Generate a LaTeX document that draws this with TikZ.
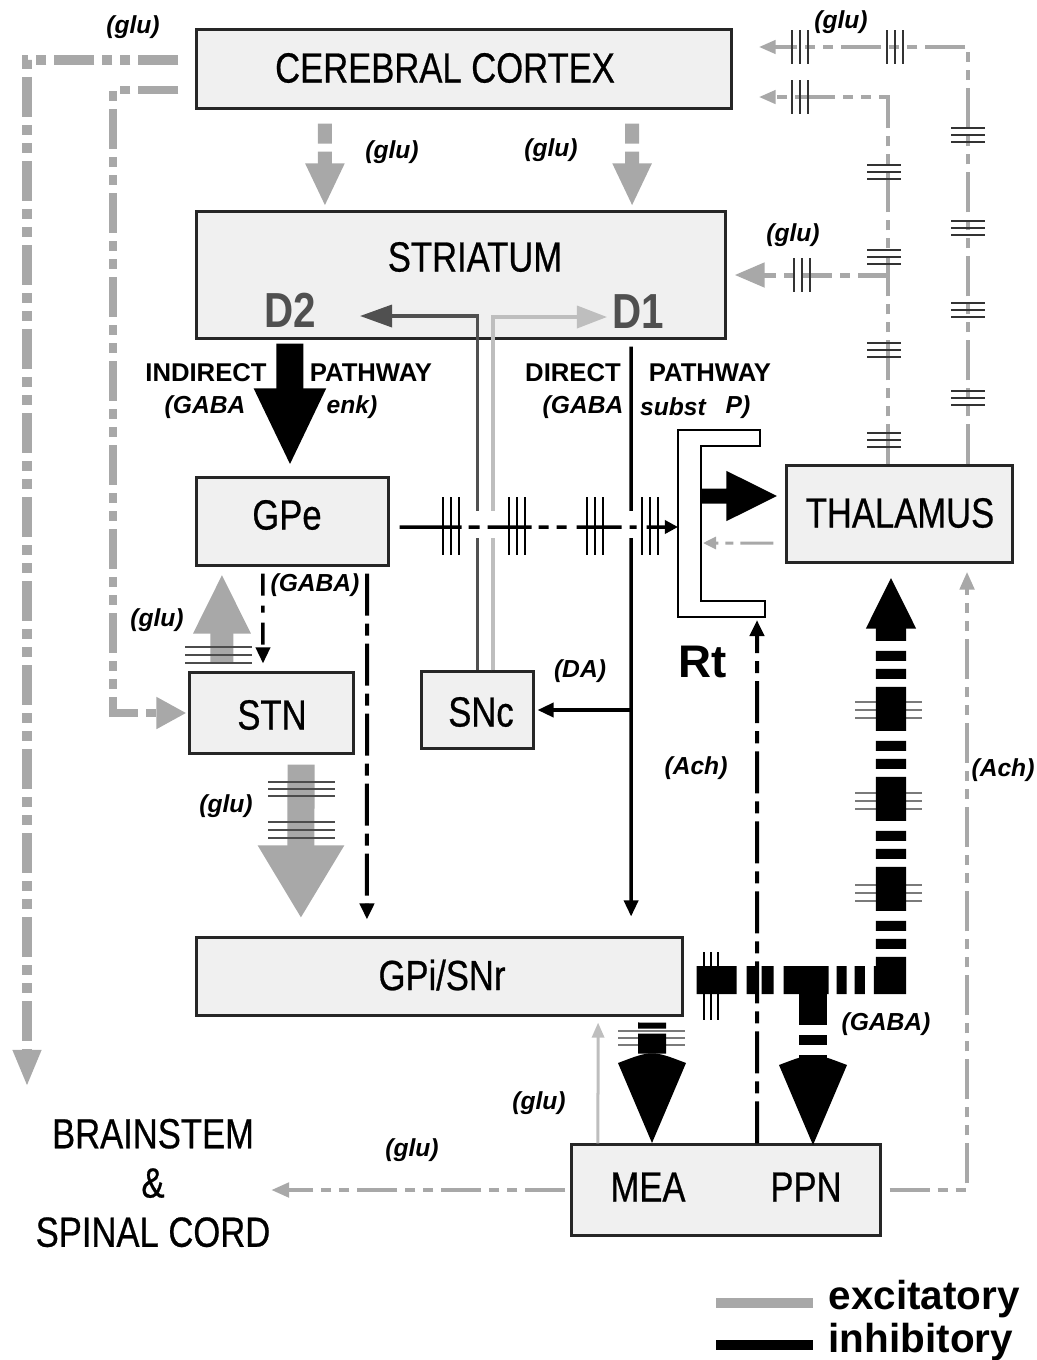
\documentclass[tikz,border=0pt]{standalone}
\usepackage{fontspec}
\setmainfont{Liberation Sans}
\newfontfamily\narrowsans{Liberation Sans}[FakeStretch=0.82, FakeBold=0.6]
\newfontfamily\narrowplain{Liberation Sans}[FakeStretch=0.82]
\usetikzlibrary{arrows.meta}

\definecolor{excgray}{HTML}{A8A8A8}
\definecolor{palegray}{HTML}{BEBEBE}
\definecolor{darkline}{HTML}{505050}
\definecolor{boxfill}{HTML}{F0F0F0}
\definecolor{tickgray}{HTML}{7A7A7A}

\tikzset{
  region/.style={draw=black!85, line width=0.03cm, fill=boxfill, inner sep=0pt},
  regiontext/.style={font=\narrowsans\fontsize{12}{14}\selectfont, inner sep=0pt},
  chem/.style={font=\fontsize{7}{8}\selectfont\bfseries\itshape, inner sep=0pt},
  pathtext/.style={font=\fontsize{7.3}{9}\selectfont\bfseries, inner sep=0pt},
  pathchem/.style={font=\fontsize{7}{9}\selectfont\bfseries\itshape, inner sep=0pt},
  excit/.style={draw=excgray},
  inhib/.style={draw=black},
  dashdotdot/.style={dash pattern=on 0.40cm off 0.08cm on 0.10cm off 0.08cm on 0.10cm off 0.08cm},
  dashdotline/.style={dash pattern=on 0.42cm off 0.08cm on 0.12cm off 0.08cm},
  tickmark/.style={draw=black!80, line width=0.02cm},
  smalltip/.style={-{Triangle[length=0.16cm,width=0.14cm]}}
}

\begin{document}
\begin{tikzpicture}[x=0.01cm, y=-0.01cm]
\useasboundingbox (0,0) rectangle (1037,1360);

%------------------------------------------------
% Regions
%------------------------------------------------

\node[region, minimum width=5.34cm, minimum height=0.78cm] (cortex) at (464,69) {};
\node[region, minimum width=5.28cm, minimum height=1.26cm] (striatum) at (461,275) {};
\node[region, minimum width=1.91cm, minimum height=0.87cm] (gpe) at (292.5,521.5) {};
\node[region, minimum width=1.63cm, minimum height=0.80cm] (stn) at (271.5,713) {};
\node[region, minimum width=1.11cm, minimum height=0.76cm] (snc) at (477.5,710) {};
\node[region, minimum width=2.25cm, minimum height=0.96cm] (thal) at (899.5,514) {};
\node[region, minimum width=4.85cm, minimum height=0.77cm] (gpi) at (439.5,976.5) {};
\node[region, minimum width=3.08cm, minimum height=0.90cm] (meappn) at (726,1190) {};

\node[regiontext] (cortextxt) at (445,68) {CEREBRAL CORTEX};
\node[regiontext] (striatumtxt) at (475,257) {STRIATUM};
\node[regiontext] (gpetxt) at (287,515) {GPe};
\node[regiontext] (stntxt) at (272,715) {STN};
\node[regiontext] (snctxt) at (481,712) {SNc};
\node[regiontext] (thaltxt) at (900,513) {THALAMUS};
\node[regiontext] (gpitxt) at (442,975) {GPi/SNr};
\node[regiontext] (meatxt) at (648,1187) {MEA};
\node[regiontext] (ppntxt) at (806,1187) {PPN};
\node[regiontext, align=center] (brain) at (153,1183) {BRAINSTEM\\\&\\SPINAL CORD};

\node[font=\narrowplain\bfseries\fontsize{14}{16}\selectfont, text=darkline, inner sep=0pt] (d2) at (290,310) {D2};
\node[font=\narrowplain\bfseries\fontsize{14}{16}\selectfont, text=darkline, inner sep=0pt] (d1) at (638,312) {D1};

%------------------------------------------------
% Reticular nucleus
%------------------------------------------------

\draw[line width=0.02cm, fill=white] (678,430) -- (760,430) -- (760,446) -- (701,446)
  -- (701,601) -- (765,601) -- (765,617) -- (678,617) -- cycle;
\coordinate (rtleft) at (678,527);
\coordinate (rtin) at (701,496);
\coordinate (rtinlow) at (703,543);
\coordinate (rtbot) at (757,620);
\node[font=\bfseries\fontsize{13}{15}\selectfont, inner sep=0pt] (rt) at (703,662) {Rt};

\draw[inhib, line width=0.15cm, -{Triangle[length=0.52cm,width=0.46cm]}]
  (rtin) -- ([xshift=-0.07cm,yshift=0.18cm]thal.west);
\draw[excit, line width=0.03cm, dash pattern=on 0.33cm off 0.07cm on 0.08cm off 0.07cm,
      -{Triangle[length=0.13cm,width=0.12cm]}]
  ([xshift=-0.12cm,yshift=-0.29cm]thal.west) -- (rtinlow);

%------------------------------------------------
% Cortical outputs
%------------------------------------------------

\coordinate (bsarrow) at (27,1087);
\draw[excit, line width=0.10cm, dashdotdot, -{Triangle[length=0.37cm,width=0.26cm]}]
  ([xshift=-0.17cm,yshift=0.09cm]cortex.west) -| (bsarrow);
\draw[excit, line width=0.08cm, dashdotdot, -{Triangle[length=0.30cm,width=0.30cm]}]
  ([xshift=-0.17cm,yshift=-0.21cm]cortex.west) -| ([xshift=-0.75cm]stn.west) -- ([xshift=-0.02cm]stn.west);

\foreach \sx/\tx in {-1.39cm/-1.36cm, 1.68cm/1.71cm}
  \draw[excit, line width=0.14cm, dash pattern=on 0.2cm off 0.08cm on 0.15cm,
        -{Triangle[length=0.43cm,width=0.36cm]}]
    ([xshift=\sx,yshift=-0.14cm]cortex.south) -- ([xshift=\tx,yshift=0.04cm]striatum.north);

%------------------------------------------------
% Thalamic outputs
%------------------------------------------------

\coordinate (thalout) at ([xshift=0.685cm]thal.north);
\coordinate (thalin) at ([xshift=-0.115cm]thal.north);

\draw[excit, line width=0.045cm, dashdotdot, -{Triangle[length=0.17cm,width=0.13cm]}]
  (thalout) |- ([xshift=0.26cm,yshift=0.22cm]cortex.east);
\draw[excit, line width=0.045cm, dashdotdot, -{Triangle[length=0.17cm,width=0.13cm]}]
  (thalin) |- ([xshift=0.26cm,yshift=-0.28cm]cortex.east);
\draw[excit, line width=0.05cm, dash pattern=on 0.3cm off 0.08cm on 0.1cm off 0.08cm,
      -{Triangle[length=0.30cm,width=0.24cm]}]
  (thalin |- striatum.east) -- ([xshift=0.08cm]striatum.east);

\foreach \ty in {135,228,310,398}
  \foreach \dy in {-7,0,7}
    \draw[tickmark] (951,\ty+\dy) -- (985,\ty+\dy);
\foreach \ty in {172,257,350,440}
  \foreach \dy in {-7,0,7}
    \draw[tickmark] (867,\ty+\dy) -- (901,\ty+\dy);
\foreach \tx/\ty in {800/47,895/47,800/97,802/275}
  \foreach \dx in {-8,0,8}
    \draw[tickmark] (\tx+\dx,\ty-17) -- (\tx+\dx,\ty+17);

%------------------------------------------------
% Striatal outputs
%------------------------------------------------

\draw[inhib, line width=0.27cm, -{Triangle[length=0.78cm,width=0.66cm]}]
  ([xshift=-1.71cm,yshift=-0.04cm]striatum.south) -- ([xshift=-0.025cm,yshift=0.1cm]gpe.north);

\coordinate (d2end) at (360,316);
\coordinate (d1end) at (607,317);
\draw[draw=darkline, line width=0.035cm, -{Triangle[length=0.32cm,width=0.22cm]}]
  (snc.north) |- (d2end);
\draw[draw=palegray, line width=0.035cm, -{Triangle[length=0.30cm,width=0.22cm]}]
  ([xshift=0.155cm]snc.north) |- (d1end);

\coordinate (directtop) at ([xshift=1.70cm,yshift=-0.07cm]striatum.south);
\coordinate (directend) at ([xshift=1.915cm,yshift=0.2cm]gpi.north);
\draw[inhib, line width=0.035cm, smalltip] (directtop) -- (directend);
\draw[inhib, line width=0.035cm, smalltip] (directtop |- snc.east) -- ([xshift=0.03cm]snc.east);

% gaps where the pallidal line crosses
\fill[white] (470,511) rectangle (500,538);
\fill[white] (624,511) rectangle (638,538);

%------------------------------------------------
% Pallidal outputs
%------------------------------------------------

\draw[inhib, line width=0.035cm,
      dash pattern=on 0.62cm off 0.07cm on 0.11cm off 0.08cm on 0.44cm off 0.07cm on 0.10cm off 0.08cm
                   on 0.10cm off 0.10cm on 0.45cm off 0.08cm on 0.07cm off 0.10cm on 0.40cm,
      -{Triangle[length=0.13cm,width=0.13cm]}]
  ([xshift=0.1cm,yshift=-0.055cm]gpe.east) -- (rtleft);
\foreach \tx in {451,517,595,650}
  \foreach \dx in {-8,0,8}
    \draw[tickmark, draw=black] (\tx+\dx,497) -- (\tx+\dx,555);

\draw[inhib, line width=0.035cm, dash pattern=on 0.22cm off 0.1cm on 0.07cm off 0.1cm, smalltip]
  ([xshift=-0.295cm,yshift=-0.07cm]gpe.south) -- ([xshift=-0.085cm,yshift=0.08cm]stn.north);
\draw[inhib, line width=0.04cm, dashdotline, smalltip]
  ([xshift=0.745cm,yshift=-0.07cm]gpe.south) -- ([xshift=-0.725cm,yshift=0.17cm]gpi.north);

%------------------------------------------------
% Subthalamic outputs
%------------------------------------------------

\draw[excit, line width=0.23cm, -{Triangle[length=0.60cm,width=0.53cm]}]
  ([xshift=-0.495cm,yshift=0.08cm]stn.north) -- ([xshift=-0.705cm,yshift=-0.07cm]gpe.south);
\foreach \dy in {647,655,663}
  \draw[tickmark, draw=black!70] (185,\dy) -- (252,\dy);

\draw[excit, line width=0.27cm, -{Triangle[length=0.73cm,width=0.81cm]}]
  ([xshift=0.295cm,yshift=-0.1cm]stn.south) -- ([xshift=-1.385cm,yshift=0.18cm]gpi.north);
\foreach \dy in {782,789,796,822,830,838}
  \draw[tickmark, draw=black!70] (268,\dy) -- (335,\dy);

%------------------------------------------------
% GPi/SNr outputs
%------------------------------------------------

\foreach \ty in {710,801,893}
  \foreach \dy in {-8,0,8}
    \draw[tickmark, draw=tickgray] (855,\ty+\dy) -- (922,\ty+\dy);
\foreach \dy in {-7,0,7}
  \draw[tickmark, draw=tickgray] (618,1038+\dy) -- (685,1038+\dy);

\coordinate (gabajoin) at (876,980);
\coordinate (gabafoot) at (891,994);
\coordinate (ppnstem) at (813,966);

\draw[inhib, line width=0.28cm,
      dash pattern=on 0.40cm off 0.10cm on 0.12cm off 0.03cm on 0.12cm off 0.10cm on 0.45cm off 0.08cm
                   on 0.10cm off 0.08cm on 0.10cm off 0.09cm]
  ([xshift=0.13cm,yshift=-0.035cm]gpi.east) -- (gabajoin);
\draw[inhib, line width=0.30cm,
      dash pattern=on 0.44cm off 0.08cm on 0.10cm off 0.08cm on 0.10cm off 0.10cm, dash phase=0.07cm,
      -{Triangle[length=0.52cm,width=0.46cm]}]
  (gabafoot) -- ([xshift=-0.085cm,yshift=-0.13cm]thal.south);
\draw[inhib, line width=0.28cm, dash pattern=on 0.59cm off 0.10cm on 0.10cm off 0.10cm on 0.07cm off 0.2cm]
  (ppnstem) -- (813,1065);
\fill (779,1065) .. controls (813,1052) .. (847,1065) -- (813,1145) -- cycle;

\draw[inhib, line width=0.28cm, dash pattern=on 0.06cm off 0.05cm on 0.2cm off 0.1cm]
  ([xshift=2.125cm,yshift=-0.06cm]gpi.south) -- (652,1063);
\fill (618,1063) .. controls (652,1050) .. (686,1063) -- (652,1143) -- cycle;

\foreach \dx in {-7,0,7}
  \draw[tickmark, draw=black] (711+\dx,952) -- (711+\dx,1020);

%------------------------------------------------
% Brainstem outputs
%------------------------------------------------

\draw[inhib, line width=0.04cm, dashdotline, smalltip]
  ([xshift=0.31cm]meappn.north) -- (rtbot);
\draw[excit, line width=0.045cm, dashdotdot, -{Triangle[length=0.18cm,width=0.14cm]}]
  ([xshift=0.08cm]meappn.east) -| ([xshift=0.675cm,yshift=-0.08cm]thal.south);
\draw[draw=palegray, line width=0.03cm, -{Triangle[length=0.15cm,width=0.12cm]}]
  ([xshift=-1.28cm]meappn.north) -- ([xshift=1.585cm,yshift=-0.06cm]gpi.south);
\draw[excit, line width=0.045cm, dashdotdot, -{Triangle[length=0.18cm,width=0.14cm]}]
  ([xshift=-0.05cm]meappn.west) -- (brain.east |- meappn.west);

%------------------------------------------------
% Transmitter labels
%------------------------------------------------

\node[chem] (glu1) at (133,27) {(glu)};
\node[chem] (glu2) at (392,152) {(glu)};
\node[chem] (glu3) at (551,150) {(glu)};
\node[chem] (glu4) at (841,22) {(glu)};
\node[chem] (glu5) at (793,235) {(glu)};
\node[chem] (glu6) at (157,620) {(glu)};
\node[chem] (glu7) at (226,806) {(glu)};
\node[chem] (glu8) at (539,1103) {(glu)};
\node[chem] (glu9) at (412,1150) {(glu)};
\node[chem] (gaba1) at (315,585) {(GABA)};
\node[chem] (gaba2) at (886,1024) {(GABA)};
\node[chem] (da) at (580,671) {(DA)};
\node[chem] (ach1) at (696,768) {(Ach)};
\node[chem] (ach2) at (1003,770) {(Ach)};

\node[pathtext] (indirect) at (206,373) {INDIRECT};
\node[pathtext] (indpath) at (371,373) {PATHWAY};
\node[pathtext] (direct) at (573,373) {DIRECT};
\node[pathtext] (dirpath) at (710,373) {PATHWAY};
\node[pathchem] (indgaba) at (205,407) {(GABA};
\node[pathchem] (indenk) at (352,407) {enk)};
\node[pathchem] (dirgaba) at (583,407) {(GABA};
\node[pathchem] (dirsubst) at (673,407) {subst};
\node[pathchem] (dirp) at (738,407) {P)};

%------------------------------------------------
% Legend
%------------------------------------------------

\node[font=\bfseries\fontsize{11.5}{13}\selectfont, anchor=west, inner sep=0pt] (lgexc) at (828,1299) {excitatory};
\node[font=\bfseries\fontsize{11.5}{13}\selectfont, anchor=west, inner sep=0pt] (lginh) at (828,1342) {inhibitory};
\draw[excit, line width=0.10cm] ([xshift=-0.15cm,yshift=-0.04cm]lgexc.west) -- ++(-0.97cm,0);
\draw[inhib, line width=0.10cm] ([xshift=-0.15cm,yshift=-0.03cm]lginh.west) -- ++(-0.97cm,0);

\end{tikzpicture}
\end{document}
